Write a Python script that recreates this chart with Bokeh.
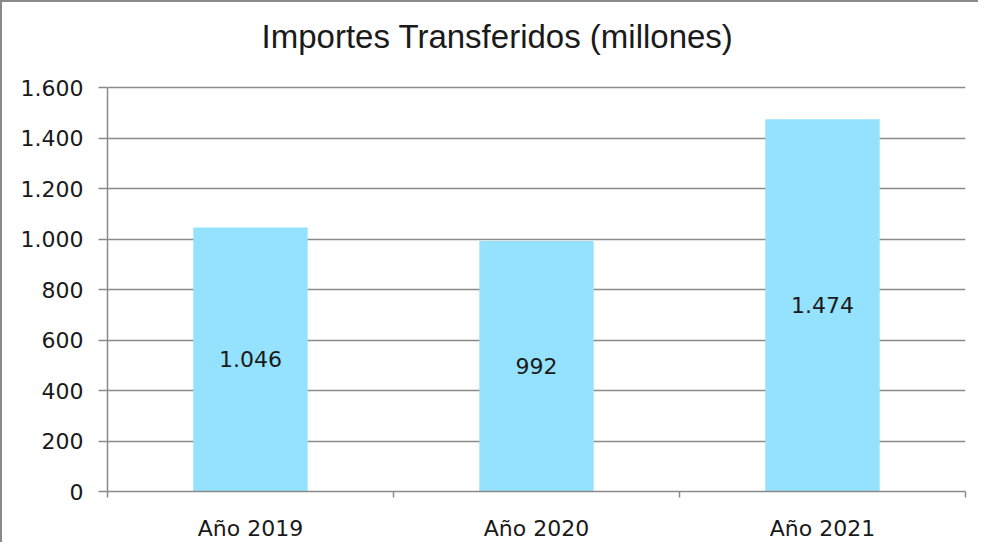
from bokeh.plotting import figure
from bokeh.models import Range1d, FixedTicker, ColumnDataSource, LabelSet, Label
from bokeh.core.properties import value
from bokeh.embed import file_html
from bokeh.resources import INLINE

categories = ["Año 2019", "Año 2020", "Año 2021"]
values = [1046, 992, 1474]
y_ticks = [0, 200, 400, 600, 800, 1000, 1200, 1400, 1600]
title_text = "Importes Transferidos (millones)"


def fmt(v):
    return f"{v:,}".replace(",", ".")


x_centers = [i + 0.5 for i in range(len(categories))]
x_bounds = [i for i in range(len(categories) + 1)]

src = ColumnDataSource(dict(
    x=x_centers,
    top=values,
    mid=[v / 2 for v in values],
    label=[fmt(v) for v in values],
))

# layout: frame spans the whole height above the x axis so the title can sit inside it;
# the value axis and grid stop at the last tick
FRAME_H = 489       # px of frame above the x axis
AXIS_PX = 404       # px used by the value axis (0 .. last tick)
y_top = y_ticks[-1] * FRAME_H / AXIS_PX

p = figure(width=978, height=542, output_backend="svg", toolbar_location=None,
           x_range=Range1d(0, len(categories)), y_range=Range1d(0, y_top),
           min_border_left=105, min_border_right=15, min_border_top=0,
           min_border_bottom=53)
p.styles = {"border-left": "2px solid #8a8a8a", "border-top": "2px solid #8a8a8a"}
p.outline_line_color = None
p.background_fill_color = "white"
p.border_fill_color = "white"

# chart title (screen units, relative to the plot frame)
p.add_layout(Label(x=390, y=455, x_units="screen", y_units="screen", text=title_text,
                   text_align="center", text_baseline="alphabetic",
                   text_font="Liberation Sans", text_font_size="33px",
                   text_color="#1a1a1a"))

p.vbar(x="x", top="top", width=0.4, source=src, fill_color="#94E2FD", line_color=None)

labels = LabelSet(x="x", y="mid", text="label", source=src, text_align="center",
                  text_baseline="middle", text_font=value("DejaVu Sans"),
                  text_font_size="22px", text_color="#1a1a1a")
p.add_layout(labels)

# y axis
p.yaxis.ticker = FixedTicker(ticks=y_ticks, minor_ticks=[])
p.yaxis.bounds = (y_ticks[0], y_ticks[-1])
p.yaxis.major_label_overrides = {t: fmt(t) for t in y_ticks}
p.yaxis.axis_line_color = "#8a8a8a"
p.yaxis.axis_line_width = 1.5
p.yaxis.major_tick_line_color = "#8a8a8a"
p.yaxis.major_tick_line_width = 1.5
p.yaxis.major_tick_out = 9
p.yaxis.major_tick_in = 0
p.yaxis.major_label_standoff = 15
p.yaxis.major_label_text_font = "DejaVu Sans"
p.yaxis.major_label_text_font_size = "22px"
p.yaxis.major_label_text_color = "#1a1a1a"

# x axis
p.xaxis.ticker = FixedTicker(ticks=x_centers, minor_ticks=x_bounds)
p.xaxis.major_label_overrides = {c: lab for c, lab in zip(x_centers, categories)}
p.xaxis.axis_line_color = "#8a8a8a"
p.xaxis.axis_line_width = 1.5
p.xaxis.major_tick_line_color = None
p.xaxis.major_tick_out = 0
p.xaxis.major_tick_in = 0
p.xaxis.minor_tick_line_color = "#8a8a8a"
p.xaxis.minor_tick_line_width = 1.5
p.xaxis.minor_tick_out = 6
p.xaxis.minor_tick_in = 0
p.xaxis.major_label_standoff = 18
p.xaxis.major_label_text_font = "DejaVu Sans"
p.xaxis.major_label_text_font_size = "22px"
p.xaxis.major_label_text_color = "#1a1a1a"

p.xgrid.grid_line_color = None
p.ygrid.ticker = FixedTicker(ticks=y_ticks[1:])
p.ygrid.grid_line_color = "#8a8a8a"
p.ygrid.grid_line_width = 1.5

open("out.html", "w").write(file_html(p, INLINE))
